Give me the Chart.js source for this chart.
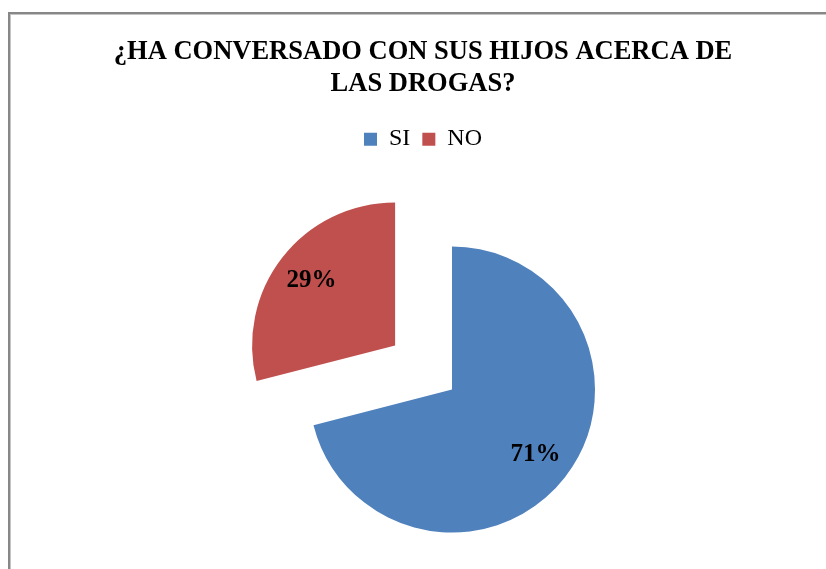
<!DOCTYPE html>
<html>
<head>
<meta charset="utf-8">
<script src="https://cdn.jsdelivr.net/npm/chart.js@4.4.0/dist/chart.umd.min.js"></script>
<style>
  html, body { margin: 0; padding: 0; background: #fff; overflow: hidden; }
  #frame {
    position: absolute; left: 8px; top: 12px; width: 840px; height: 580px;
    border-top: 2px solid #878787; border-left: 2px solid #878787;
    box-shadow: inset 1px 1px 0 #c4c4c4;
  }
  #frame canvas { position: absolute; left: 1px; top: 1px; }
</style>
</head>
<body>
<div id="frame"><canvas id="chart" width="824" height="554"></canvas></div>
<script>
var titleLines = ['¿HA CONVERSADO CON SUS HIJOS ACERCA DE', 'LAS DROGAS?'];
var categories = ['SI', 'NO'];
var values = [71, 29];
var colors = ['#4F81BD', '#C0504D'];
var explode = [0, 72];

var serif = '"Liberation Serif", "Times New Roman", serif';

// pie sits right of the title centre, as in the original sheet
var pieNudge = {
  id: 'pieNudge',
  afterLayout: function (chart) {
    var a = chart.chartArea;
    a.left += 29; a.right += 29;
    a.top += 24.5; a.bottom += 24.5;
  }
};

// pull slices out along their bisector
var explodeSlices = {
  id: 'explodeSlices',
  afterDatasetsUpdate: function (chart) {
    chart.getDatasetMeta(0).data.forEach(function (arc, i) {
      var mid = (arc.startAngle + arc.endAngle) / 2;
      arc.x += Math.cos(mid) * explode[i];
      arc.y += Math.sin(mid) * explode[i];
    });
  }
};

// percentage labels inside each slice
var sliceLabels = {
  id: 'sliceLabels',
  afterDatasetsDraw: function (chart) {
    var ctx = chart.ctx;
    var total = values.reduce(function (a, b) { return a + b; }, 0);
    ctx.save();
    ctx.font = 'bold 25px ' + serif;
    ctx.fillStyle = '#000';
    ctx.textAlign = 'center';
    ctx.textBaseline = 'middle';
    chart.getDatasetMeta(0).data.forEach(function (arc, i) {
      var mid = (arc.startAngle + arc.endAngle) / 2;
      var r = arc.outerRadius * 0.74;
      var pct = Math.round(values[i] / total * 100) + '%';
      ctx.fillText(pct, arc.x + Math.cos(mid) * r, arc.y + Math.sin(mid) * r);
    });
    ctx.restore();
  }
};

new Chart(document.getElementById('chart').getContext('2d'), {
  type: 'pie',
  data: {
    labels: categories,
    datasets: [{
      data: values,
      backgroundColor: colors,
      borderWidth: 0,
      clip: false
    }]
  },
  options: {
    responsive: false,
    animation: false,
    radius: 143,
    layout: { padding: 0 },
    plugins: {
      title: {
        display: true,
        text: titleLines,
        color: '#000',
        font: { family: serif, size: 26.5, weight: 'bold', lineHeight: 1.21 },
        padding: { top: 21, bottom: 15 }
      },
      legend: {
        position: 'top',
        labels: {
          color: '#000',
          font: { family: serif, size: 24 },
          boxWidth: 13,
          boxHeight: 13,
          padding: 12
        }
      },
      tooltip: { enabled: false }
    }
  },
  plugins: [pieNudge, explodeSlices, sliceLabels]
});
</script>
</body>
</html>
